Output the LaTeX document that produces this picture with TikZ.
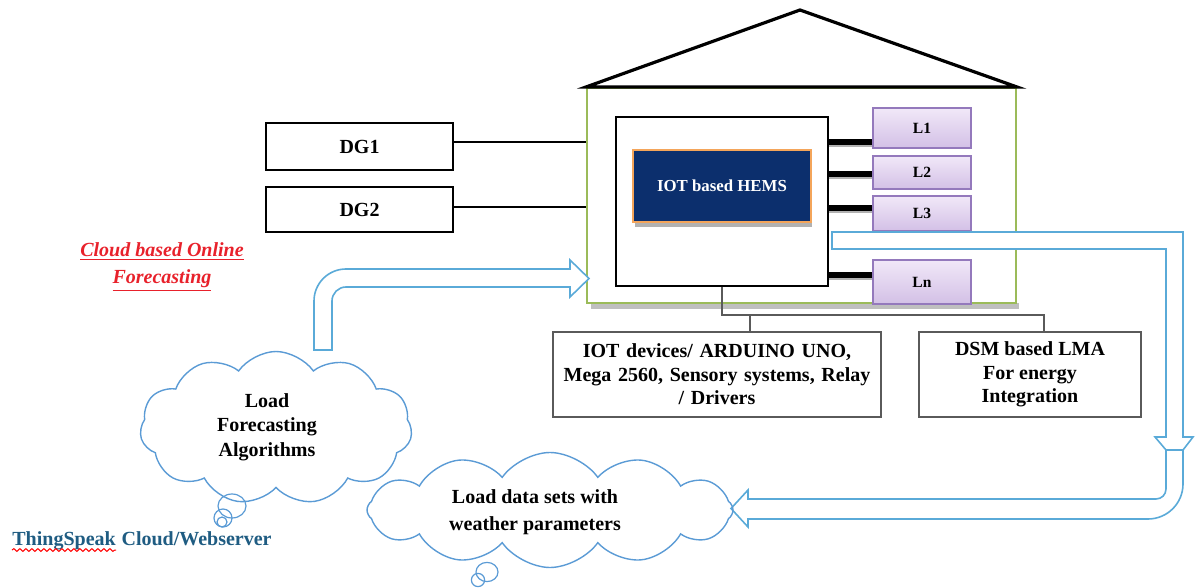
\documentclass[tikz,border=0pt]{standalone}
\usepackage{fontspec}
\setmainfont{Liberation Serif}
\usetikzlibrary{shapes.symbols,decorations.pathmorphing,calc}
\definecolor{housegreen}{HTML}{9BBB59}
\definecolor{navy}{HTML}{0C2F6D}
\definecolor{hemsorange}{HTML}{F4A55A}
\definecolor{lfilltop}{HTML}{F1E8F8}
\definecolor{lfillbot}{HTML}{D3C0E6}
\definecolor{lborder}{HTML}{9479BC}
\definecolor{arrowblue}{HTML}{5AAAD8}
\definecolor{cloudblue}{HTML}{5B9BD5}
\definecolor{redtext}{HTML}{E8212B}
\definecolor{tealtext}{HTML}{1F5C82}
\definecolor{conngray}{HTML}{5A5A5A}
\begin{document}
\begin{tikzpicture}[x=0.5pt,y=-0.5pt,
  txt/.style={font=\bfseries\fontsize{10}{#1}\selectfont, align=center},
  txt/.default=12,
  mybox/.style={draw=black, line width=1pt, fill=white, inner sep=0pt},
  graybox/.style={draw=conngray, line width=0.8pt, fill=white, inner sep=0pt},
  lbox/.style={draw=lborder, line width=0.8pt, top color=lfilltop, bottom color=lfillbot, inner sep=0pt, minimum width=49pt, font=\bfseries\fontsize{7.8}{9}\selectfont},
  thk/.style={line width=2.6pt, black},
  thkshadow/.style={line width=2.2pt, black!30},
  hollow/.style={draw=arrowblue, line width=0.8pt, fill=white, line join=miter},
  cloudy/.style={cloud, cloud puff arc=110, draw=cloudblue, line width=0.7pt, cloud ignores aspect, inner sep=0pt},
  bubble/.style={draw=cloudblue, line width=0.6pt},
  dgline/.style={line width=0.6pt, black},
  conn/.style={line width=0.7pt, conngray}
]
\useasboundingbox (0,0) rectangle (1200,588);

% house
\fill[black!25] (591,303) rectangle (1019,309);
\node[draw=housegreen, line width=1pt, minimum width=214.5pt, minimum height=107.5pt, inner sep=0pt] (house) at (801.5,195.5) {};
\coordinate (apex) at (800,10);
\draw[line width=1.6pt, line join=miter] (house.north west) -- (apex) -- (house.north east) -- cycle;

% controller box
\node[mybox, minimum width=106pt, minimum height=84.5pt] (ctrl) at (722,201.5) {};
\fill[black!30] (635,222) rectangle (812,227);
\node[fill=navy, draw=hemsorange, line width=1pt, minimum width=89pt, minimum height=36pt, inner sep=0pt, text=white, font=\bfseries\fontsize{8.4}{10}\selectfont] (hems) at (722,186) {IOT based HEMS};

% loads
\node[lbox, minimum height=20pt] (L1) at (922,128) {L1};
\node[lbox, minimum height=16.5pt] (L2) at (922,172.5) {L2};
\node[lbox, minimum height=17.5pt] (L3) at (922,213.5) {L3};
\node[lbox, minimum height=22pt] (Ln) at (922,282) {Ln};
\foreach \n/\s in {L1/-7, L2/-0.75, L3/2.75, Ln/3.5} {
  \draw[thkshadow] ([yshift=\s pt-1.6pt]ctrl.east |- \n.west) -- ([yshift=\s pt-1.6pt]\n.west);
  \draw[thk] ([yshift=\s pt]ctrl.east |- \n.west) -- ([yshift=\s pt]\n.west);
}

% generators
\node[mybox, minimum width=93.5pt, minimum height=23.5pt, txt] (dg1) at (359.5,146.5) {DG1};
\node[mybox, minimum width=93.5pt, minimum height=22.5pt, txt] (dg2) at (359.5,209.5) {DG2};
\draw[dgline] ([yshift=2.25pt]dg1.east) -- ([yshift=2.25pt]dg1.east -| house.west);
\draw[dgline] ([yshift=1.25pt]dg2.east) -- ([yshift=1.25pt]dg2.east -| house.west);

% lower boxes
\node[graybox, minimum width=164pt, minimum height=42.5pt, txt=11.75, text width=160pt] (iot) at (717,374.5) {IOT devices/ ARDUINO UNO,\\ Mega 2560, Sensory systems, Relay\\ / Drivers};
\node[graybox, minimum width=111pt, minimum height=42.5pt, txt=11.75] (dsm) at (1030,374.5) {DSM based LMA\\ For energy\\ Integration};
\coordinate (busR) at (1044,315);
\coordinate (busI) at (750,315);
\draw[conn] (ctrl.south) |- (busR) -- (busR |- dsm.north);
\draw[conn] (busI) -- (busI |- iot.north);

% hollow arrows
\draw[hollow] (314,350) -- (314,301) arc[start angle=180, end angle=90, radius=16pt] -- (570,269) -- (570,260) -- (589,278.5) -- (570,297) -- (570,287) -- (346,287) arc[start angle=90, end angle=180, radius=7pt] -- (332,350) -- cycle;
\draw[hollow] (832,232) -- (1183,232) -- (1183,437) -- (1193,437) -- (1183,450) -- (1166,450) -- (1155,437) -- (1166,437) -- (1166,249) -- (832,249) -- cycle;
\draw[hollow] (1166,450) -- (1166,489) arc[start angle=0, end angle=-90, radius=5pt] -- (748,499) -- (748,490) -- (731,508.5) -- (748,527) -- (748,519) -- (1148,519) arc[start angle=-90, end angle=0, radius=17.5pt] -- (1183,450) -- cycle;

% clouds
\node[cloudy, cloud puffs=11, minimum width=136pt, minimum height=76.5pt] (cl1) at (276,428) {};
\node[txt=12.3] (t1) at (267,427) {Load\\Forecasting\\Algorithms};
\draw[bubble] (232,506) ellipse [x radius=7pt, y radius=6pt];
\draw[bubble] (223,518) circle [radius=4.5pt];
\draw[bubble] (222,522) circle [radius=2.5pt];

\node[cloudy, cloud puffs=12, minimum width=183pt, minimum height=57.5pt] (cl2) at (550,510) {};
\node[txt=13.5] (t2) at (535,512) {Load data sets with\\weather parameters};
\draw[bubble] (487,572) ellipse [x radius=5.5pt, y radius=4.8pt];
\draw[bubble] (478,580) circle [radius=3.3pt];

% labels
\node[font=\bfseries\itshape\fontsize{10}{13.5}\selectfont, text=redtext, align=center] (cbo) at (162,267) {\underline{Cloud based Online}\\\underline{Forecasting}};
\node[anchor=base west, inner sep=0pt, text=tealtext, txt] (ts1) at (12,545) {ThingSpeak};
\node[anchor=base west, inner sep=0pt, text=tealtext, txt] (ts2) at ([xshift=2.5pt]ts1.base east) {Cloud/Webserver};
\draw[red, line width=0.5pt, decorate, decoration={snake, amplitude=0.7pt, segment length=3pt}] ([yshift=-2.5pt]ts1.base west) -- ([yshift=-2.5pt]ts1.base east);
\end{tikzpicture}
\end{document}
